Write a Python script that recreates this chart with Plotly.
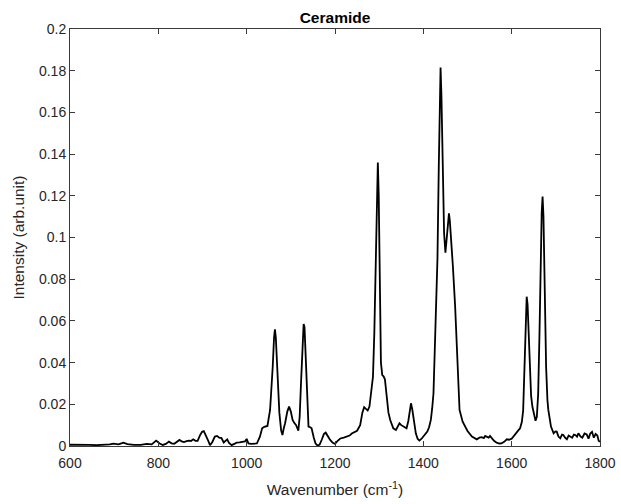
import plotly.graph_objects as go

# Raman spectrum of ceramide: wavenumber (cm^-1) and intensity (arb. unit)
wavenumber = [
    600, 610, 620, 630, 645, 660, 675, 690, 698, 710, 721, 730, 745, 760, 774, 785,
    795, 803, 810, 817, 824, 830, 836, 842, 848, 853, 858, 864, 869, 874, 879, 884,
    889, 894, 899, 903, 907, 912, 917, 922, 928, 933, 938, 943, 948, 952, 956, 960,
    966, 972, 977, 984, 990, 996, 1000, 1004, 1010, 1018, 1023, 1030, 1035, 1040,
    1047, 1053, 1056, 1059, 1062, 1064, 1066, 1070, 1074, 1078, 1081, 1084, 1087,
    1092, 1096, 1100, 1104, 1108, 1112, 1117, 1120, 1123, 1126, 1129, 1131, 1134,
    1137, 1140, 1144, 1147, 1152, 1156, 1160, 1165, 1170, 1175, 1179, 1184, 1189,
    1195, 1200, 1206, 1212, 1220, 1227, 1233, 1238, 1244, 1250, 1257, 1262, 1266,
    1270, 1274, 1278, 1282, 1286, 1289, 1292, 1295, 1297, 1299, 1301, 1304, 1307,
    1310, 1313, 1317, 1321, 1325, 1332, 1338, 1342, 1346, 1350, 1355, 1362, 1366,
    1369, 1372, 1375, 1378, 1383, 1387, 1391, 1396, 1400, 1405, 1409, 1413, 1417,
    1420, 1423, 1427, 1430, 1432, 1435, 1437, 1439, 1441, 1443, 1445, 1447, 1450,
    1452, 1455, 1458, 1460, 1462, 1467, 1472, 1477, 1482, 1489, 1495, 1500, 1510,
    1516, 1521, 1527, 1532, 1537, 1540, 1543, 1548, 1551, 1555, 1560, 1566, 1572,
    1577, 1583, 1589, 1594, 1600, 1605, 1611, 1615, 1619, 1623, 1626, 1629, 1632,
    1634, 1636, 1638, 1641, 1644, 1647, 1651, 1654, 1657, 1660, 1663, 1666, 1668,
    1670, 1672, 1674, 1676, 1678, 1681, 1683, 1689, 1695, 1699, 1702, 1706, 1710,
    1714, 1717, 1721, 1725, 1729, 1732, 1737, 1741, 1744, 1748, 1751, 1756, 1760,
    1765, 1770, 1774, 1778, 1782, 1786, 1790, 1794, 1797, 1800,
]

intensity = [
    0.0006, 0.0005, 0.0006, 0.0004, 0.0005, 0.0004, 0.0005, 0.0008, 0.0011, 0.0008,
    0.0016, 0.0009, 0.0005, 0.0005, 0.0010, 0.0008, 0.0026, 0.0012, 0.0005, 0.0010,
    0.0021, 0.0013, 0.0011, 0.0018, 0.0029, 0.0022, 0.0019, 0.0023, 0.0026, 0.0024,
    0.0032, 0.0025, 0.0025, 0.0050, 0.0068, 0.0071, 0.0055, 0.0030, 0.0004, 0.0018,
    0.0045, 0.0048, 0.0040, 0.0038, 0.0017, 0.0025, 0.0032, 0.0015, 0.0004, 0.0010,
    0.0016, 0.0017, 0.0018, 0.0022, 0.0034, 0.0012, 0.0010, 0.0010, 0.0012, 0.0045,
    0.0085, 0.0092, 0.0096, 0.0173, 0.0260, 0.0380, 0.0520, 0.0560, 0.0520, 0.0360,
    0.0160, 0.0075, 0.0053, 0.0085, 0.0109, 0.0165, 0.0189, 0.0165, 0.0125, 0.0110,
    0.0100, 0.0073, 0.0140, 0.0300, 0.0480, 0.0585, 0.0570, 0.0420, 0.0200, 0.0093,
    0.0090, 0.0085, 0.0040, 0.0012, 0.0003, 0.0006, 0.0030, 0.0058, 0.0064, 0.0045,
    0.0029, 0.0015, 0.0010, 0.0025, 0.0036, 0.0040, 0.0045, 0.0050, 0.0060, 0.0068,
    0.0073, 0.0100, 0.0160, 0.0186, 0.0178, 0.0170, 0.0189, 0.0260, 0.0333, 0.0540,
    0.0900, 0.1250, 0.1360, 0.1200, 0.0750, 0.0400, 0.0340, 0.0334, 0.0320, 0.0221,
    0.0160, 0.0125, 0.0085, 0.0077, 0.0095, 0.0109, 0.0100, 0.0093, 0.0085, 0.0120,
    0.0175, 0.0205, 0.0175, 0.0130, 0.0061, 0.0035, 0.0026, 0.0035, 0.0045, 0.0055,
    0.0069, 0.0090, 0.0125, 0.0180, 0.0253, 0.0540, 0.0750, 0.0900, 0.1340, 0.1650,
    0.1815, 0.1680, 0.1420, 0.1180, 0.1020, 0.0927, 0.0980, 0.1080, 0.1116, 0.1080,
    0.1020, 0.0860, 0.0670, 0.0375, 0.0173, 0.0117, 0.0090, 0.0072, 0.0045, 0.0038,
    0.0032, 0.0040, 0.0042, 0.0038, 0.0048, 0.0045, 0.0040, 0.0048, 0.0037, 0.0025,
    0.0016, 0.0012, 0.0013, 0.0020, 0.0032, 0.0030, 0.0035, 0.0050, 0.0069, 0.0075,
    0.0085, 0.0115, 0.0170, 0.0378, 0.0600, 0.0716, 0.0680, 0.0570, 0.0330, 0.0240,
    0.0188, 0.0140, 0.0121, 0.0140, 0.0250, 0.0540, 0.0940, 0.1120, 0.1196, 0.1100,
    0.0860, 0.0600, 0.0378, 0.0220, 0.0173, 0.0093, 0.0061, 0.0070, 0.0069, 0.0045,
    0.0037, 0.0055, 0.0053, 0.0040, 0.0032, 0.0050, 0.0045, 0.0040, 0.0055, 0.0053,
    0.0045, 0.0061, 0.0045, 0.0040, 0.0060, 0.0055, 0.0035, 0.0060, 0.0068, 0.0040,
    0.0058, 0.0050, 0.0025, 0.0020,
]

x_ticks = [600, 800, 1000, 1200, 1400, 1600, 1800]
y_ticks = [0, 0.02, 0.04, 0.06, 0.08, 0.1, 0.12, 0.14, 0.16, 0.18, 0.2]
y_tick_labels = ["0", "0.02", "0.04", "0.06", "0.08", "0.1",
                 "0.12", "0.14", "0.16", "0.18", "0.2"]

FONT = "Liberation Sans, Arial, sans-serif"
AXIS_COLOR = "#3a3a3a"
TEXT_COLOR = "#262626"

fig = go.Figure()
fig.add_trace(go.Scatter(
    x=wavenumber,
    y=intensity,
    mode="lines",
    line=dict(color="black", width=1.8),
    showlegend=False,
    hoverinfo="x+y",
))

axis_common = dict(
    showline=True,
    linecolor=AXIS_COLOR,
    linewidth=1,
    mirror="ticks",
    ticks="inside",
    ticklen=5,
    tickcolor=AXIS_COLOR,
    tickwidth=1,
    showgrid=False,
    zeroline=False,
    automargin=False,
    tickfont=dict(family=FONT, size=14, color=TEXT_COLOR),
)

fig.update_layout(
    width=621,
    height=504,
    margin=dict(l=70, r=21, t=29, b=58),
    paper_bgcolor="white",
    plot_bgcolor="white",
    title=dict(
        text="<b>Ceramide</b>",
        x=0.5,
        xanchor="center",
        xref="paper",
        y=1,
        yref="paper",
        yanchor="bottom",
        pad=dict(b=6),
        font=dict(family=FONT, size=15.5, color="black"),
    ),
    xaxis=dict(
        range=[600, 1800],
        tickvals=x_ticks,
        ticktext=[str(v) for v in x_ticks],
        ticklabelstandoff=4,
        title=dict(text="Wavenumber (cm<sup>-1</sup>)", standoff=14,
                   font=dict(family=FONT, size=15.5, color=TEXT_COLOR)),
        **axis_common,
    ),
    yaxis=dict(
        range=[0, 0.2],
        tickvals=y_ticks,
        ticktext=y_tick_labels,
        title=dict(text="Intensity (arb.unit)", standoff=10,
                   font=dict(family=FONT, size=15.5, color=TEXT_COLOR)),
        **axis_common,
    ),
)

fig.write_html("out.html")
